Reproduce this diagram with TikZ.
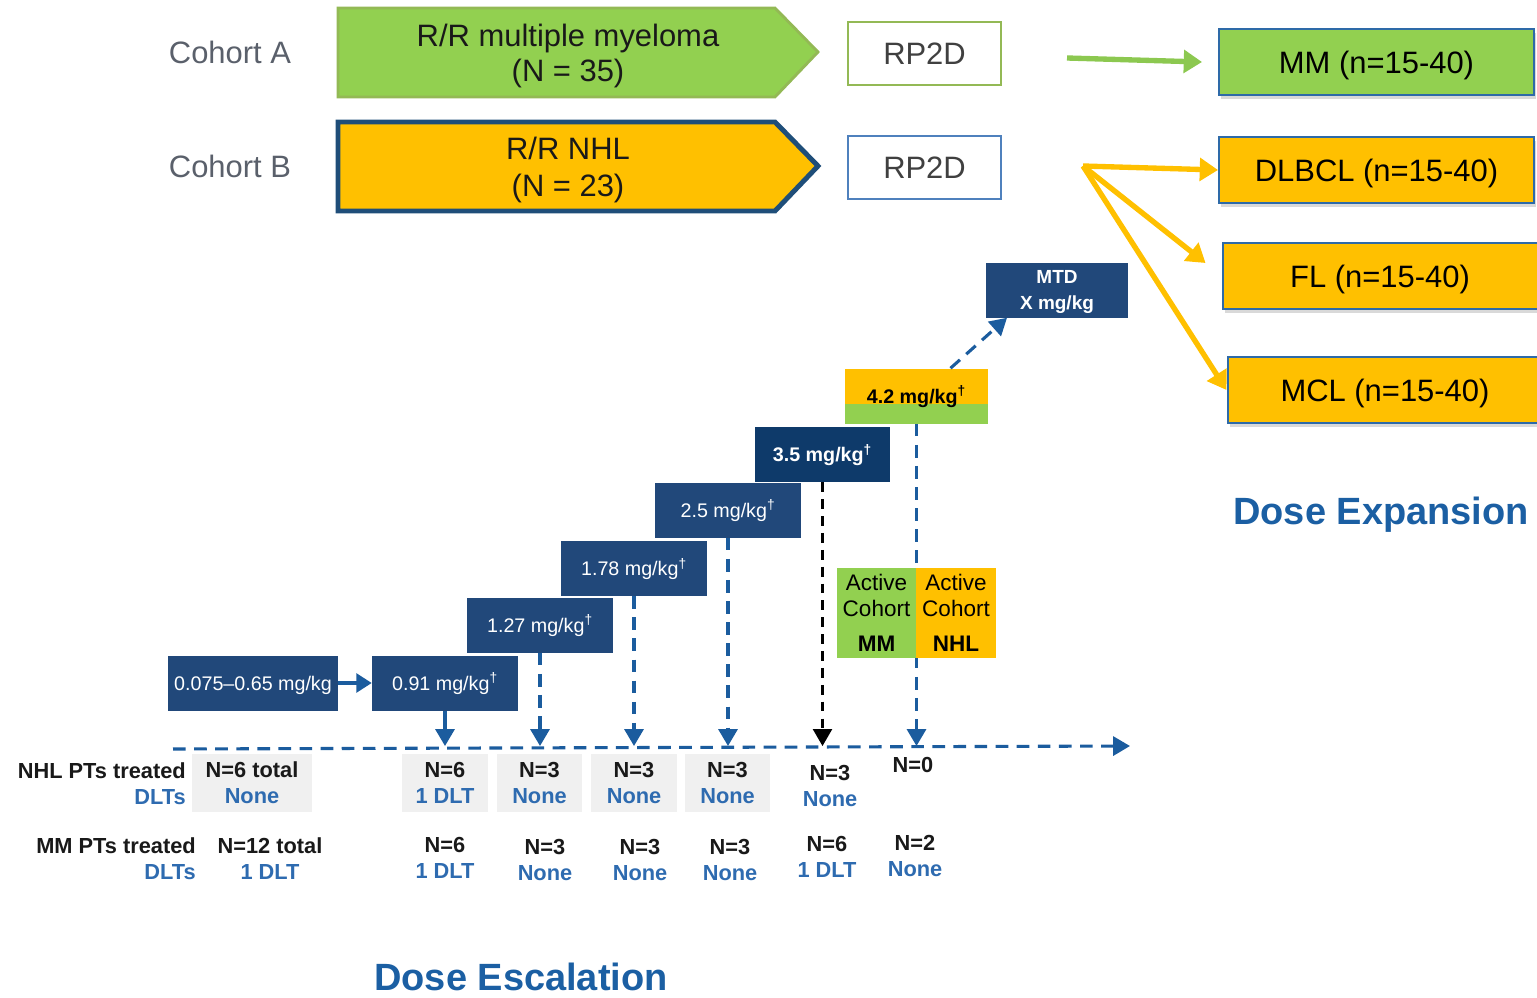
\documentclass[tikz,border=0pt]{standalone}
\usepackage{fontspec}
\setmainfont{Liberation Sans}
\usetikzlibrary{arrows.meta,shadows}
\definecolor{dosenavy}{HTML}{21487A}
\definecolor{dosedeep}{HTML}{0E3A6A}
\definecolor{cohgreen}{HTML}{92D050}
\definecolor{cohgold}{HTML}{FFC000}
\definecolor{arrgreen}{HTML}{8CC850}
\definecolor{linkblue}{HTML}{1B5C9E}
\definecolor{dltblue}{HTML}{2E6BB0}
\definecolor{cellgray}{HTML}{F0F0F0}
\definecolor{headblue}{HTML}{1B5FA3}
\definecolor{labgray}{HTML}{5A606B}
\definecolor{rimgreen}{HTML}{93B955}
\definecolor{rimblue}{HTML}{4F81BD}
\definecolor{rimnavy}{HTML}{1F4E79}
\definecolor{boxrim}{HTML}{2E6AA8}
\newcommand\pxu{0.025cm}
\newcommand\dg{\textsuperscript{†}}

\begin{document}
\begin{tikzpicture}[x=0.025cm,y=-0.025cm,
  big/.style={font=\fontsize{22}{26}\selectfont, inner sep=0, align=center},
  dose/.style={fill=dosenavy, text=white, inner sep=0, minimum height=55*\pxu,
    minimum width=#1*\pxu, font=\fontsize{14}{17}\selectfont, text height=10pt, text depth=0pt},
  expand/.style={draw=boxrim, line width=1.4pt, inner sep=0, minimum width=315*\pxu,
    minimum height=66*\pxu, font=\fontsize{22}{26}\selectfont, text height=15.8pt, text depth=0pt,
    drop shadow={shadow xshift=1.5pt, shadow yshift=-2.5pt, opacity=0.3}},
  rp/.style={big, fill=white, line width=2pt, minimum width=153*\pxu, minimum height=63*\pxu, text=black!75},
  fan/.style={line width=3.8pt, -{Triangle[width=16pt,length=13pt]}},
  drop/.style={linkblue, line width=2.2pt, dash pattern=on 9pt off 6pt, -{Triangle[width=13.5pt,length=12pt]}},
  tab/.style={font=\fontsize{15.5}{18.5}\selectfont\bfseries, inner sep=0, align=center, text=black!90},
  cell/.style={tab, fill=cellgray, minimum height=58*\pxu},
  act/.style={inner sep=0, align=center, minimum width=80*\pxu, minimum height=90*\pxu,
    font=\fontsize{16}{18.5}\selectfont},
  title/.style={font=\fontsize{27}{30}\selectfont\bfseries, text=headblue, inner sep=0}]
  \useasboundingbox (0,0) rectangle (1537,998);
  % cohorts
  \node[big, text=labgray] (labA) at (230,52) {Cohort A};
  \node[big, text=labgray] (labB) at (230,166) {Cohort B};
  \draw[rimgreen, line width=2pt, fill=cohgreen] (338,8) -- (775,8) -- (818,52) -- (775,97) -- (338,97) -- cycle;
  \draw[rimnavy, line width=3.5pt, fill=cohgold] (338,122) -- (775,122) -- (818,166) -- (775,211) -- (338,211) -- cycle;
  \node[big, text=black!90, font=\fontsize{22}{25}\selectfont] (cohA) at (568,56) {R/R multiple myeloma\\(N = 35)};
  \node[big, text=black!90, font=\fontsize{22}{27}\selectfont] (cohB) at (568,170) {R/R NHL\\(N = 23)};
  \node[rp, draw=rimgreen] (rpA) at (924.5,53.5) {RP2D};
  \node[rp, draw=rimblue] (rpB) at (924.5,167.5) {RP2D};
  % expansion
  \node[expand, fill=cohgreen] (mm) at (1376.5,62) {MM (n=15-40)};
  \node[expand, fill=cohgold] (dlbcl) at (1376.5,170) {DLBCL (n=15-40)};
  \node[expand, fill=cohgold] (fl) at (1380,276) {FL (n=15-40)};
  \node[expand, fill=cohgold] (mcl) at (1385,390) {MCL (n=15-40)};
  \coordinate (gsrc) at (1067,58);
  \coordinate (fork) at (1083,166);
  \draw[fan, arrgreen] (gsrc) -- ([xshift=-16*\pxu]mm.west);
  \draw[fan, cohgold] (fork) -- (dlbcl.west);
  \draw[fan, cohgold] (fork) -- ([xshift=-16*\pxu, yshift=13*\pxu]fl.west);
  \draw[fan, cohgold] (fork) -- (mcl.west);
  \node[title] (expT) at (1381,515) {Dose Expansion};
  % escalation steps
  \foreach \nm/\cx/\cy/\w/\lab in {d0/253/683/170/{0.075–0.65 mg/kg}, d091/445/683/146/{0.91 mg/kg\dg},
      d127/540/625/146/{1.27 mg/kg\dg}, d178/634/568.5/146/{1.78 mg/kg\dg}, d25/728/510/146/{2.5 mg/kg\dg}}
    \node[dose=\w] (\nm) at (\cx,\cy) {\lab};
  \node[dose=135, fill=dosedeep, font=\fontsize{14}{17}\selectfont\bfseries] (d35) at (822.5,454.5) {3.5 mg/kg\dg};
  \node[dose=143, fill=cohgold, text=black, font=\fontsize{14}{17}\selectfont\bfseries,
    path picture={\fill[cohgreen] (path picture bounding box.south west) rectangle ([yshift=20*\pxu]path picture bounding box.south east);}]
    (d42) at (916.5,396) {4.2 mg/kg\dg};
  \node[fill=dosenavy, text=white, inner sep=0, minimum width=142*\pxu, minimum height=55*\pxu,
    font=\fontsize{13.5}{19}\selectfont\bfseries, align=center, text depth=0pt] (mtd) at (1057,290) {MTD\\X mg/kg};
  \coordinate (axL) at (173,749);
  \coordinate (axR) at (1130,746);
  \coordinate (tip) at (0,746);
  \draw[drop] (axL) -- (axR);
  \draw[linkblue, line width=2.2pt, -{Triangle[width=13.5pt,length=11pt]}] (d0.east) -- (d091.west);
  \draw[linkblue, line width=2.2pt, -{Triangle[width=13.5pt,length=12pt]}] (d091.south) -- (d091.south |- tip);
  \foreach \nm in {d127,d178,d25,d42}
    \draw[drop] (\nm.south) -- (\nm.south |- tip);
  \draw[black, line width=1.5pt, dash pattern=on 7pt off 5pt, -{Triangle[width=13.5pt,length=12pt]}] (d35.south) -- (d35.south |- tip);
  \draw[drop] ([xshift=34*\pxu]d42.north) -- ([xshift=-50*\pxu]mtd.south);
  \node[act, fill=cohgreen] (actmm) at (876.5,613) {Active\\Cohort\\[6pt]\textbf{MM}};
  \node[act, fill=cohgold] (actnhl) at (956,613) {Active\\Cohort\\[6pt]\textbf{NHL}};
  % patients table
  \node[tab, anchor=east, align=right] (nhlrow) at (186,784) {NHL PTs treated\\\textcolor{dltblue}{DLTs}};
  \node[tab, anchor=east, align=right] (mmrow) at (196,859) {MM PTs treated\\\textcolor{dltblue}{DLTs}};
  \foreach \nm/\cx/\w/\nn/\dl in {c0/252/120/N=6 total/None, c1/445/86/N=6/1 DLT, c2/539.5/85/N=3/None,
      c3/634/86/N=3/None, c4/727.5/85/N=3/None}
    \node[cell, minimum width=\w*\pxu] (\nm) at (\cx,782.5) {\nn\\\textcolor{dltblue}{\dl}};
  \node[tab] (c5) at (830,786) {N=3\\\textcolor{dltblue}{None}};
  \node[tab] (c6) at (913,765) {N=0};
  \foreach \nm/\cx/\cy/\nn/\dl in {m0/270/859/N=12 total/1 DLT, m1/445/858/N=6/1 DLT, m2/545/860/N=3/None,
      m3/640/860/N=3/None, m4/730/860/N=3/None, m5/827/857/N=6/1 DLT, m6/915/856/N=2/None}
    \node[tab] (\nm) at (\cx,\cy) {\nn\\\textcolor{dltblue}{\dl}};
  \node[title] (escT) at (521,977) {Dose Escalation};
\end{tikzpicture}
\end{document}
